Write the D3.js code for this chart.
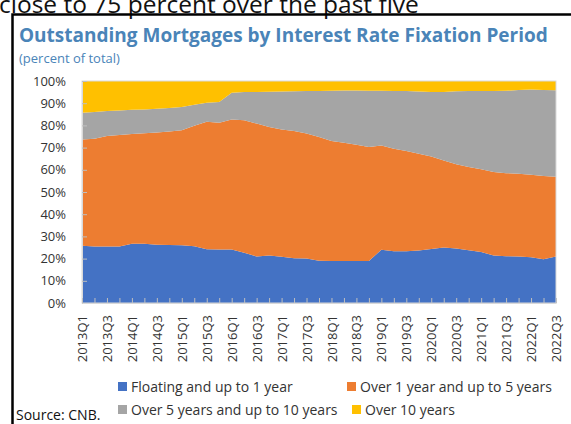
<!DOCTYPE html>
<html>
<head>
<meta charset="utf-8">
<script src="https://cdn.jsdelivr.net/npm/d3@7"></script>
<style>
  html, body { margin: 0; padding: 0; background: #fff; }
  svg { display: block; }
  text { font-family: "Open Sans", "Noto Sans", sans-serif; }
</style>
</head>
<body>
<svg id="chart" width="571" height="424"></svg>
<script>
const quarters = ["2013Q1","2013Q2","2013Q3","2013Q4","2014Q1","2014Q2","2014Q3","2014Q4",
  "2015Q1","2015Q2","2015Q3","2015Q4","2016Q1","2016Q2","2016Q3","2016Q4",
  "2017Q1","2017Q2","2017Q3","2017Q4","2018Q1","2018Q2","2018Q3","2018Q4",
  "2019Q1","2019Q2","2019Q3","2019Q4","2020Q1","2020Q2","2020Q3","2020Q4",
  "2021Q1","2021Q2","2021Q3","2021Q4","2022Q1","2022Q2","2022Q3"];

const seriesNames = ["Floating and up to 1 year", "Over 1 year and up to 5 years",
  "Over 5 years and up to 10 years", "Over 10 years"];

const floatingUpTo1 = [25.8,25.5,25.5,25.5,26.7,26.7,26.2,26.1,26.0,25.6,24.2,24.1,24.1,22.6,21.0,21.4,
  20.8,20.2,20.1,19.0,18.9,18.9,18.9,18.9,24.0,23.3,23.3,23.6,24.3,25.0,24.5,23.8,23.0,21.4,21.1,20.9,20.6,19.7,20.9];
const over1To5 = [47.9,48.5,49.7,50.2,49.4,49.8,50.6,51.1,51.8,54.2,57.5,57.1,58.6,59.7,59.8,57.9,
  57.4,57.3,56.2,55.8,54.1,53.3,52.4,51.4,47.0,46.2,45.2,43.6,41.7,39.2,38.0,37.5,37.3,37.6,37.4,37.3,37.2,37.5,36.0];
const over5To10 = [12.0,12.0,11.3,11.0,10.9,10.7,10.7,10.6,10.5,9.5,8.5,9.3,12.0,12.7,14.3,15.9,
  17.1,17.9,19.2,20.7,22.6,23.5,24.4,25.3,24.6,26.0,27.0,28.1,29.0,30.9,32.9,34.2,35.2,36.5,37.1,37.8,38.4,38.8,38.9];
const over10 = [14.3,14.0,13.5,13.3,13.0,12.8,12.5,12.2,11.7,10.7,9.8,9.5,5.3,5.0,4.9,4.8,
  4.7,4.6,4.5,4.5,4.4,4.3,4.3,4.4,4.4,4.5,4.5,4.7,5.0,4.9,4.6,4.5,4.5,4.5,4.4,4.0,3.8,4.0,4.2];

const yTicks = [0,10,20,30,40,50,60,70,80,90,100];
const colors = ["#4472C4", "#ED7D31", "#A5A5A5", "#FFC000"];

const table = quarters.map((q, i) => ({
  q,
  [seriesNames[0]]: floatingUpTo1[i],
  [seriesNames[1]]: over1To5[i],
  [seriesNames[2]]: over5To10[i],
  [seriesNames[3]]: over10[i]
}));

const svg = d3.select("#chart");

// Top clipped heading text (cut off at the top edge, as in the reference)
svg.append("text").attr("x", -1).attr("y", 13)
  .style("font-size", "24.5px").attr("fill", "#111")
  .text("close to 75 percent over the past five");

// Frame
svg.append("rect").attr("x", 12.5).attr("y", 14.5).attr("width", 600).attr("height", 450)
  .attr("fill", "none").attr("stroke", "#000").attr("stroke-width", 2.5);

// Title
svg.append("text").attr("x", 19).attr("y", 42)
  .style("font-size", "19px").style("font-weight", "bold").attr("fill", "#4A84B8")
  .text("Outstanding Mortgages by Interest Rate Fixation Period");
svg.append("text").attr("x", 19).attr("y", 63)
  .style("font-size", "13px").attr("fill", "#4A84B8")
  .text("(percent of total)");

const L = 82, R = 556, T = 81, B = 303;
const x = d3.scalePoint().domain(quarters).range([L, R]);
const y = d3.scaleLinear().domain([0, 100]).range([B, T]);

const stack = d3.stack().keys(seriesNames);
const layers = stack(table);

const area = d3.area()
  .x(d => x(d.data.q))
  .y0(d => y(d[0]))
  .y1(d => y(d[1]));

svg.append("g").selectAll("path").data(layers).join("path")
  .attr("d", area)
  .attr("fill", (d, i) => colors[i]);

// plot border
svg.append("rect").attr("x", L).attr("y", T).attr("width", R - L).attr("height", B - T)
  .attr("fill", "none").attr("stroke", "#D9D9D9").attr("stroke-width", 1);

// Y axis
const yAxis = svg.append("g").attr("transform", `translate(${L},0)`)
  .call(d3.axisLeft(y).tickValues(yTicks).tickFormat(d => d + "%")
    .tickSizeInner(-5).tickSizeOuter(0).tickPadding(16));
yAxis.select(".domain").attr("stroke", "#D9D9D9");
yAxis.selectAll(".tick line").attr("stroke", "#BFBFBF");
yAxis.selectAll("text").style("font-size", "13px").attr("fill", "#333")
  .style("font-family", "'Open Sans', sans-serif");

// X axis
const xAxis = svg.append("g").attr("transform", `translate(0,${B})`)
  .call(d3.axisBottom(x).tickSizeInner(-5).tickSizeOuter(0)
    .tickFormat((d, i) => i % 2 === 0 ? d : ""));
xAxis.select(".domain").attr("stroke", "#D9D9D9");
xAxis.selectAll(".tick line").attr("stroke", "#BFBFBF");
xAxis.selectAll("text")
  .attr("transform", "rotate(-90)")
  .attr("x", -12).attr("y", 0).attr("dy", "0.35em")
  .attr("text-anchor", "end")
  .style("font-size", "13px").attr("fill", "#333")
  .style("font-family", "'Open Sans', sans-serif");

// Legend
const legendPos = [[118, 387], [347, 387], [118, 410], [352, 410]];
const lg = svg.append("g");
seriesNames.forEach((name, i) => {
  const [lx, ly] = legendPos[i];
  lg.append("rect").attr("x", lx).attr("y", ly - 5).attr("width", 9).attr("height", 9)
    .attr("fill", colors[i]);
  lg.append("text").attr("x", lx + 13).attr("y", ly).attr("dy", "0.35em")
    .style("font-size", "14px").attr("fill", "#333").text(name);
});

// Source
svg.append("text").attr("x", 16).attr("y", 420)
  .style("font-size", "14px").attr("fill", "#111").text("Source: CNB.");
</script>
</body>
</html>
